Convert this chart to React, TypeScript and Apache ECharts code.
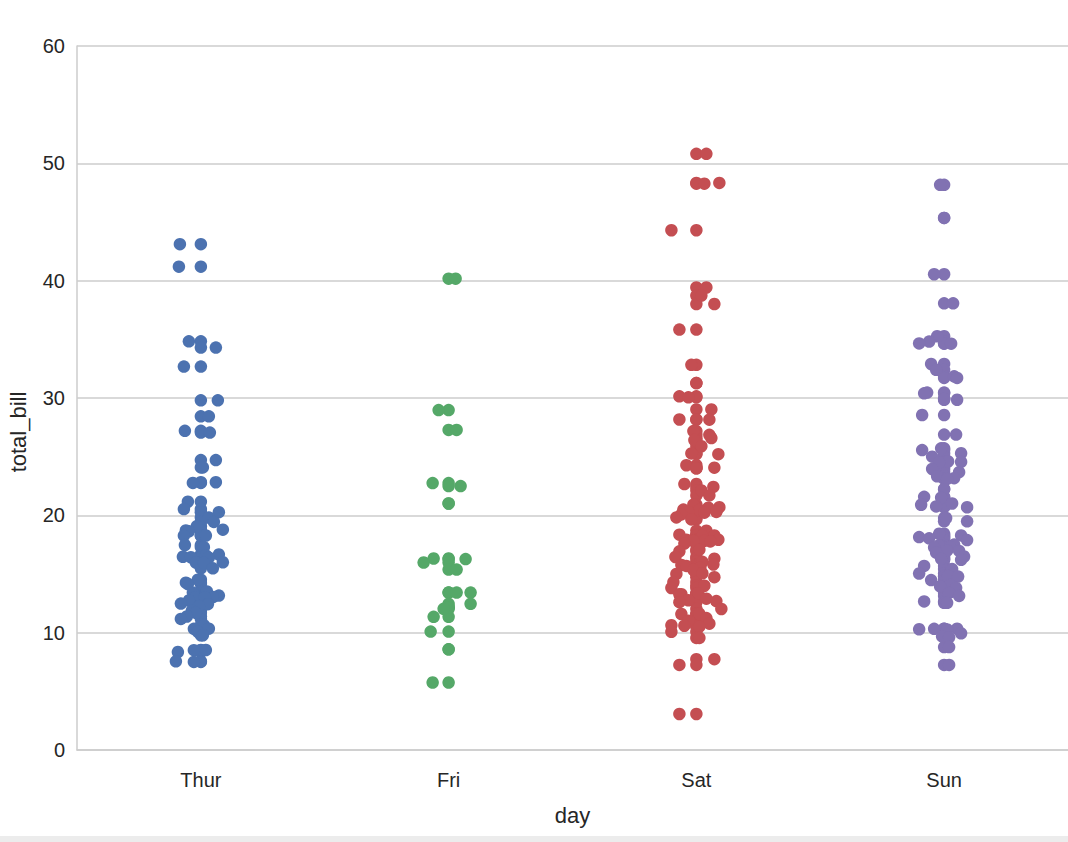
import React, { useEffect, useRef } from "react";
import * as echarts from "echarts";

const days = ["Thur", "Fri", "Sat", "Sun"];
const colors = ["#4C72B0", "#55A868", "#C44E52", "#8172B2"];
const yTicks = [0, 10, 20, 30, 40, 50, 60];

// total_bill per day (each bill is drawn twice: once on the centre line, once jittered)
const thurBill = [43.11, 41.19, 34.83, 34.3, 32.68, 29.8, 28.44, 27.2, 27.05, 24.71, 24.08, 22.76, 22.82, 21.16, 20.53, 20.27, 19.81, 19.44, 19.08, 18.78, 18.71, 18.64, 18.28, 18.26, 17.47, 17.29, 16.66, 16.58, 16.47, 16.43, 16.4, 16.0, 15.98, 15.95, 15.48, 14.52, 14.26, 14.15, 13.51, 13.42, 13.16, 13.03, 13.0, 13.0, 12.74, 12.48, 12.43, 12.26, 11.87, 11.69, 11.38, 11.17, 10.65, 10.34, 10.33, 10.07, 9.78, 8.52, 8.51, 8.35, 7.56, 7.51];
const thurJitter = [-21, -22, -12, 15, -17, 17, 8, -16, 9, 15, 2, -8, 15, -13, -17, 18, 8, 13, -4, 22, -15, -12, 5, -17, -16, 3, 18, 5, -18, -10, 8, 22, -5, 3, 12, -3, -15, -13, 6, -8, 18, 12, -6, 4, -12, -20, 7, -2, -9, -5, -14, -20, 3, 8, -7, -3, 2, 5, -7, -23, -25, -7];

const friBill = [40.17, 28.97, 27.28, 22.75, 22.49, 21.01, 16.32, 16.27, 15.98, 15.38, 13.42, 13.42, 12.46, 12.16, 12.03, 11.35, 10.09, 8.58, 5.75];
const friJitter = [7, -10, 8, -16, 12, 0, -15, 17, -25, 8, 8, 22, 22, 0, -5, -15, -18, 0, -16];

const satBill = [50.81, 48.33, 48.27, 44.3, 39.42, 38.73, 38.01, 35.83, 32.83, 31.27, 30.14, 30.06, 29.03, 28.17, 28.15, 27.18, 26.86, 26.59, 26.41, 25.89, 25.28, 25.21, 24.27, 24.06, 24.01, 22.67, 22.42, 22.12, 21.7, 20.92, 20.69, 20.65, 20.49, 20.45, 20.29, 20.29, 20.23, 20.08, 19.82, 19.65, 18.69, 18.35, 18.29, 18.24, 17.92, 17.92, 17.82, 17.81, 17.78, 17.59, 17.07, 16.93, 16.45, 16.31, 16.04, 15.81, 15.77, 15.69, 15.53, 15.36, 15.06, 15.01, 14.73, 14.31, 14.0, 13.81, 13.37, 13.28, 13.27, 12.9, 12.76, 12.69, 12.6, 12.02, 11.61, 11.59, 11.24, 11.02, 10.77, 10.63, 10.59, 10.51, 10.07, 9.55, 7.74, 7.25, 3.07];
const satJitter = [10, 23, 8, -25, 10, 5, 18, -17, -5, 0, -17, -8, 15, -17, 13, -3, 13, 15, -2, 5, -5, 22, -10, 18, 0, -12, 17, 5, 13, -3, 23, 12, -13, 3, 20, -8, 8, -15, -20, -5, 10, -17, 18, 6, 22, -10, 8, -3, 14, -12, 3, -17, -21, 18, 6, 17, -15, -10, 4, -3, 6, -20, 18, -23, 8, -25, 2, -15, -17, 10, -8, 20, -17, 25, 3, -15, 10, -8, 13, -25, -12, 3, -25, 3, 18, -17, -17];

const sunBill = [48.17, 45.35, 40.55, 38.07, 35.26, 34.81, 34.65, 34.63, 32.9, 32.4, 31.85, 31.71, 30.46, 30.4, 29.93, 29.85, 28.55, 26.88, 25.71, 25.56, 25.29, 25.0, 24.59, 24.55, 24.52, 23.95, 23.68, 23.33, 23.17, 23.1, 22.23, 21.58, 21.5, 21.01, 20.9, 20.76, 20.69, 19.77, 19.49, 18.43, 18.29, 18.15, 18.04, 17.89, 17.51, 17.46, 17.31, 17.26, 16.99, 16.97, 16.82, 16.49, 16.29, 16.21, 15.69, 15.42, 15.04, 14.83, 14.78, 14.48, 14.07, 13.94, 13.81, 13.39, 13.13, 12.66, 12.54, 10.34, 10.33, 10.29, 10.27, 9.94, 9.68, 9.6, 8.77, 7.25];
const sunJitter = [-4, 0, -10, 9, -7, -15, -25, 7, -13, -8, 10, 13, -17, -20, 0, 13, -22, 12, -3, -22, 17, -12, 4, 17, -5, -12, 15, -7, 10, 3, 0, -20, -3, 8, -23, -8, 23, 2, 23, -5, 17, -25, -15, 23, 10, -5, 6, -10, 3, 15, -8, 20, -3, 17, -20, 8, -25, 4, 14, -13, 6, -4, 12, 5, 15, -20, 3, 13, -10, -25, 3, 17, -2, 5, 5, 5];

// jitter values above are in 1/248ths of a category band
const JITTER_UNIT = 1 / 248;

const bills = [thurBill, friBill, satBill, sunBill];
const jitters = [thurJitter, friJitter, satJitter, sunJitter];

const FONT = "Liberation Sans, Arial, Helvetica, sans-serif";
const TEXT = "#262626";
const GRID = "#cccccc";

export default function App() {
  const ref = useRef<HTMLDivElement>(null);
  useEffect(() => {
    if (!ref.current) return;
    const chart = echarts.init(ref.current, undefined, { renderer: "svg" });
    const series = days.map((d, i) => {
      const centre = bills[i].map((v) => [i, v]);
      const jit = bills[i].map((v, k) => [i + jitters[i][k] * JITTER_UNIT, v]);
      return {
        name: d,
        type: "scatter",
        xAxisIndex: 1,
        yAxisIndex: 0,
        symbol: "circle",
        symbolSize: 12.5,
        itemStyle: { color: colors[i], opacity: 1 },
        data: centre.concat(jit),
      };
    });
    chart.setOption({
      animation: false,
      backgroundColor: "#ffffff",
      textStyle: { fontFamily: FONT },
      grid: { left: 77, right: 0, top: 46, bottom: 92, containLabel: false },
      xAxis: [
        {
          type: "category",
          data: days,
          boundaryGap: true,
          name: "day",
          nameLocation: "middle",
          nameGap: 54,
          nameTextStyle: { color: TEXT, fontSize: 22, fontFamily: FONT },
          axisLine: { show: true, lineStyle: { color: GRID, width: 1.5 } },
          axisTick: { show: false },
          axisLabel: { color: TEXT, fontSize: 20, fontFamily: FONT, margin: 20 },
          splitLine: { show: false },
        },
        {
          type: "value",
          min: -0.5,
          max: 3.5,
          show: false,
          splitLine: { show: false },
          axisLine: { show: false },
        },
      ],
      yAxis: {
        type: "value",
        min: yTicks[0],
        max: yTicks[yTicks.length - 1],
        interval: 10,
        axisLine: { show: true, onZero: false, lineStyle: { color: GRID, width: 1.5 } },
        axisTick: { show: false },
        axisLabel: {
          color: TEXT,
          fontSize: 20,
          fontFamily: FONT,
          margin: 12,
          lineHeight: 28,
          padding: [8, 0, 0, 0],
        },
        splitLine: { show: true, lineStyle: { color: GRID, width: 1.5 } },
      },
      graphic: [
        {
          type: "text",
          x: 18,
          y: 432,
          rotation: Math.PI / 2,
          style: {
            text: "total_bill",
            fill: TEXT,
            fontSize: 22,
            fontFamily: FONT,
            align: "center",
            verticalAlign: "middle",
          },
          silent: true,
        },
        {
          type: "rect",
          shape: { x: 0, y: 836, width: 1068, height: 6 },
          style: { fill: "#ececec" },
          silent: true,
        },
      ],
      series,
    });
    return () => chart.dispose();
  }, []);
  return (
    <div
      ref={ref}
      style={{ position: "absolute", left: 0, top: 0, width: 1068, height: 842 }}
    />
  );
}
